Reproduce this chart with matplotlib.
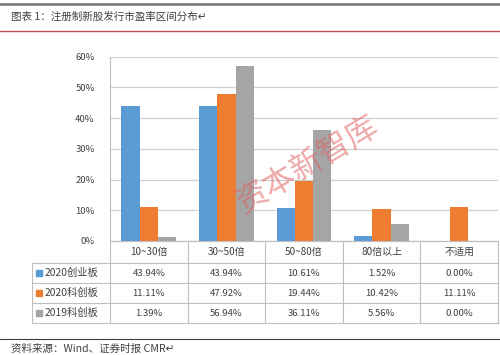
import matplotlib
matplotlib.use("Agg")
import matplotlib.pyplot as plt
from matplotlib.lines import Line2D
from matplotlib.patches import Rectangle
import numpy as np

plt.rcParams['font.family'] = ['Noto Sans CJK SC', 'DejaVu Sans']

# --- Data
categories = ["10~30倍", "30~50倍", "50~80倍", "80倍以上", "不适用"]
series_names = ["2020创业板", "2020科创板", "2019科创板"]
cyb_2020 = [43.94, 43.94, 10.61, 1.52, 0.00]
kcb_2020 = [11.11, 47.92, 19.44, 10.42, 11.11]
kcb_2019 = [1.39, 56.94, 36.11, 5.56, 0.00]
colors = ["#5B9BD5", "#ED7D31", "#A5A5A5"]
yticks = [0, 10, 20, 30, 40, 50, 60]

W, H = 500, 355
fig = plt.figure(figsize=(W / 100, H / 100), dpi=100)


def fx(x):
    return x / W


def fy(y):
    return 1 - y / H


def hline(y, x0, x1, color="#BFBFBF", lw=0.8):
    fig.add_artist(Line2D([fx(x0), fx(x1)], [fy(y), fy(y)], color=color, lw=lw,
                          transform=fig.transFigure))


def vline(x, y0, y1, color="#BFBFBF", lw=0.8):
    fig.add_artist(Line2D([fx(x), fx(x)], [fy(y0), fy(y1)], color=color, lw=lw,
                          transform=fig.transFigure))


# --- Header / footer
hline(4, 0, 500, color="#7F7F7F", lw=2.0)
fig.text(fx(11), fy(17), "图表 1：注册制新股发行市盈率区间分布↵", fontsize=7.6,
         color="#404040", va="center", ha="left")
hline(30.5, 0, 500, color="#C0504D", lw=1.0)
hline(339, 0, 500, color="#404040", lw=0.8)
fig.text(fx(11), fy(349), "资料来源：Wind、证券时报 CMR↵", fontsize=7.6,
         color="#404040", va="center", ha="left")

# --- Chart area
ax_l, ax_r, y0px, y60px = 110, 498, 241, 56.5
ax = fig.add_axes([fx(ax_l), fy(y0px), fx(ax_r - ax_l), fy(y60px) - fy(y0px)])
n = len(categories)
x = np.arange(n)
bw = 0.235
for i, (vals, c) in enumerate(zip([cyb_2020, kcb_2020, kcb_2019], colors)):
    ax.bar(x + (i - 1) * bw, vals, width=bw, color=c, zorder=3)
ax.set_xlim(-0.5, n - 0.5)
ax.set_ylim(0, 60)
ax.set_yticks(yticks)
ax.set_yticklabels([f"{t}%" for t in yticks], fontsize=6.8, color="#404040")
ax.tick_params(axis="y", length=0, pad=11)
ax.set_xticks([])
ax.grid(axis="y", color="#D0D0D0", lw=0.9, zorder=0)
for s in ["top", "right"]:
    ax.spines[s].set_visible(False)
ax.spines["left"].set_color("#BFBFBF")
ax.spines["bottom"].set_color("#BFBFBF")

# --- Data table
col_w = (ax_r - ax_l) / n
row_lines = [263, 283, 303, 323]
hline(y0px, ax_l, ax_r)
for yl in row_lines:
    hline(yl, 32, ax_r)
vline(32, 263, 323)
for k in range(n + 1):
    vline(ax_l + k * col_w, y0px, 323)

for k, cat in enumerate(categories):
    fig.text(fx(ax_l + (k + 0.5) * col_w), fy(252), cat, fontsize=7.2,
             color="#404040", ha="center", va="center")

for r, (name, vals, c) in enumerate(zip(series_names,
                                        [cyb_2020, kcb_2020, kcb_2019], colors)):
    yc = (row_lines[r] + row_lines[r + 1]) / 2
    fig.add_artist(Rectangle((fx(36), fy(yc + 3)), fx(6), fy(yc - 3) - fy(yc + 3),
                             color=c, transform=fig.transFigure))
    fig.text(fx(45), fy(yc), name, fontsize=7.4, color="#404040",
             ha="left", va="center")
    for k, v in enumerate(vals):
        fig.text(fx(ax_l + (k + 0.5) * col_w), fy(yc), f"{v:.2f}%", fontsize=6.9,
                 color="#404040", ha="center", va="center")

# --- Watermark
fig.text(fx(308), fy(165), "资本新智库", fontsize=23, color="#E06060", alpha=0.55,
         rotation=31, ha="center", va="center", fontweight="light")

fig.savefig("out.png", dpi=100)
